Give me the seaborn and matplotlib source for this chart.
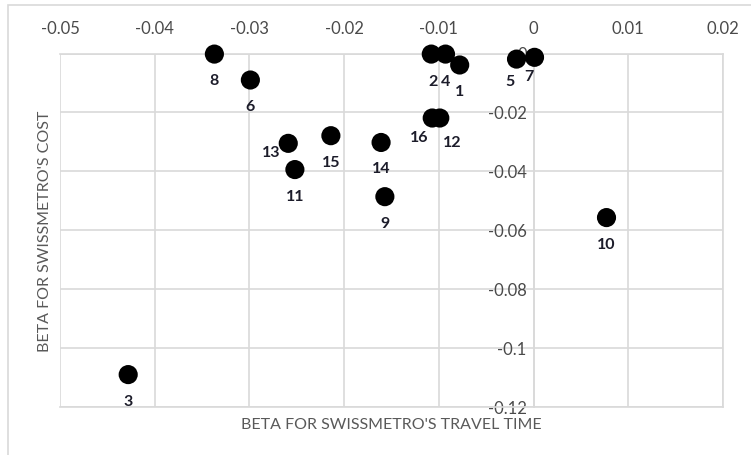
import matplotlib
matplotlib.use("Agg")
import matplotlib.pyplot as plt
import seaborn as sns
import pandas as pd
from matplotlib.patches import Rectangle

# ---- data ----
model_ids = [1, 2, 3, 4, 5, 6, 7, 8, 9, 10, 11, 12, 13, 14, 15, 16]
beta_time = [-0.0078, -0.0108, -0.0428, -0.0093, -0.0018, -0.0299, 0.0001, -0.0337,
             -0.0157, 0.0077, -0.0252, -0.0099, -0.0259, -0.0161, -0.0214, -0.0107]
beta_cost = [-0.0039, -0.0002, -0.1090, -0.0002, -0.0019, -0.0090, -0.0013, -0.0002,
             -0.0486, -0.0557, -0.0394, -0.0219, -0.0305, -0.0302, -0.0279, -0.0219]
x_ticks = [-0.05, -0.04, -0.03, -0.02, -0.01, 0, 0.01, 0.02]
x_tick_labels = ["-0.05", "-0.04", "-0.03", "-0.02", "-0.01", "0", "0.01", "0.02"]
y_ticks = [-0.12, -0.1, -0.08, -0.06, -0.04, -0.02, 0]
y_tick_labels = ["-0.12", "-0.1", "-0.08", "-0.06", "-0.04", "-0.02", "0"]
x_title = "BETA FOR SWISSMETRO'S TRAVEL TIME"
y_title = "BETA FOR SWISSMETRO'S COST"

# label placement (pixel offsets, dx right, dy down); default below the point
default_offset = (0, 27)
label_offsets = {2: (2, 28), 4: (0, 28), 5: (-7, 23), 7: (-6, 20),
                 13: (-17, 10), 16: (-13, 20), 12: (12, 25)}

df = pd.DataFrame({"id": model_ids, "time": beta_time, "cost": beta_cost})

sns.set_theme(style="white")
plt.rcParams["font.family"] = ["Lato", "DejaVu Sans"]

W, H, DPI = 751, 455, 100
fig = plt.figure(figsize=(W / DPI, H / DPI), dpi=DPI)
fig.patch.set_facecolor("white")

# outer chart border
fig.patches.append(Rectangle((8 / W, -0.1), 1.2, 1 - 5 / H + 0.1, transform=fig.transFigure,
                             fill=False, edgecolor="#d9d9d9", linewidth=1.2))

ax = fig.add_axes([60 / W, 1 - 407 / H, (723 - 60) / W, (407 - 53.5) / H])
ax.set_facecolor("white")

sns.scatterplot(data=df, x="time", y="cost", ax=ax, color="black", s=190,
                edgecolor="none", linewidth=0, zorder=4, legend=False)
for coll in ax.collections:
    coll.set_clip_on(False)

ax.set_xlim(-0.05, 0.02)
ax.set_ylim(-0.12, 0)
ax.set_xticks(x_ticks)
ax.set_xticklabels(x_tick_labels)
ax.set_yticks(y_ticks)
ax.set_yticklabels(y_tick_labels)

grid_c = "#d9d9d9"
ax.grid(True, color=grid_c, linewidth=1.2)
ax.set_axisbelow(True)

for s in ["top", "bottom", "right", "left"]:
    ax.spines[s].set_color(grid_c)
    ax.spines[s].set_linewidth(1.2)
ax.spines["left"].set_position(("data", 0))

tick_c = "#4a4a4a"
ax.xaxis.tick_top()
ax.tick_params(axis="x", length=0, pad=12, labelsize=12, labelcolor=tick_c)
ax.tick_params(axis="y", length=0, pad=5, labelsize=12, labelcolor=tick_c)

ax.set_xlabel("")
ax.set_ylabel("")
fig.text((60 + 723) / 2 / W, 1 - 425 / H, x_title, ha="center", va="center",
         fontsize=11.5, color="#595959")
fig.text(45 / W, 1 - 231 / H, y_title, ha="center", va="center", rotation=90,
         fontsize=11.5, color="#595959")

px2pt = 72 / DPI
for mid, xv, yv in zip(model_ids, beta_time, beta_cost):
    dx, dy = label_offsets.get(mid, default_offset)
    ax.annotate(str(mid), (xv, yv), xytext=(dx * px2pt, -dy * px2pt),
                textcoords="offset points", ha="center", va="center",
                fontsize=11.5, fontweight="bold", color="#1c1c2a",
                annotation_clip=False, zorder=5)

fig.savefig("out.png", dpi=DPI, facecolor="white")
